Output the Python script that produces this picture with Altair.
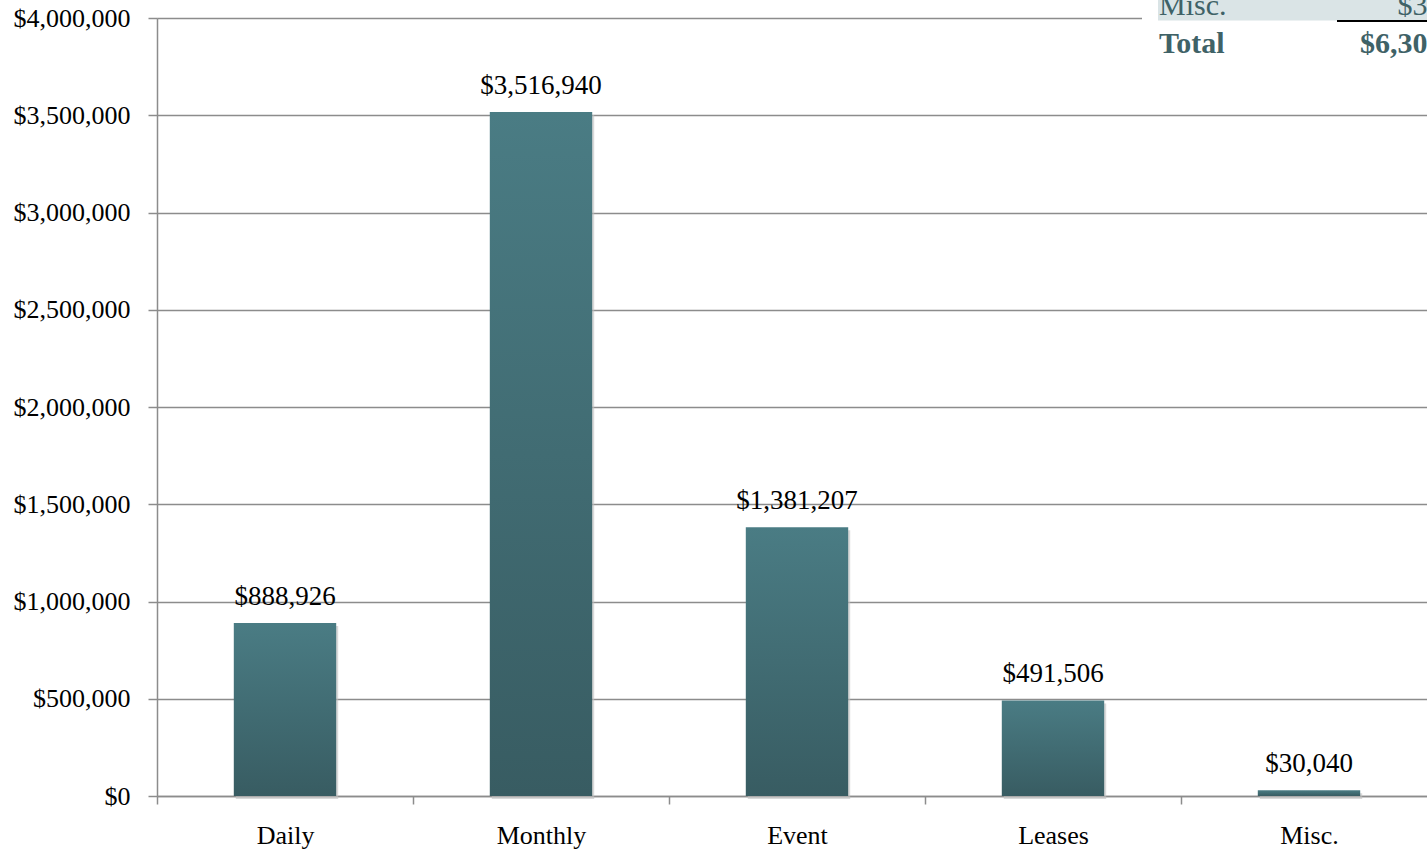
import altair as alt
import pandas as pd

categories = ["Daily", "Monthly", "Event", "Leases", "Misc."]
revenue = [888926, 3516940, 1381207, 491506, 30040]

table_labels = ["Misc.", "Total"]
table_values = ["$30,040", "$6,308,619"]

FONT = "Liberation Serif"
GRID = "#8c8c8c"
TABLE_TEXT = "#3f6267"

df = pd.DataFrame({"category": categories, "revenue": revenue})

x_enc = alt.X(
    "category:N",
    sort=categories,
    scale=alt.Scale(range=[0, 1280], paddingInner=0, paddingOuter=0),
    axis=alt.Axis(
        title=None, labelAngle=0, labelFont=FONT, labelFontSize=26, labelColor="#000000",
        labelBaseline="alphabetic", labelPadding=39, tickBand="extent", tickSize=8,
        tickColor=GRID, tickWidth=1.5, domainColor=GRID, domainWidth=1.5, grid=False,
    ),
)
y_enc = alt.Y(
    "revenue:Q",
    scale=alt.Scale(domain=[0, 4000000], nice=False),
    axis=alt.Axis(
        title=None, values=[0, 500000, 1000000, 1500000, 2000000, 2500000, 3000000, 3500000, 4000000],
        format="$,.0f", labelFont=FONT, labelFontSize=26, labelColor="#000000",
        labelPadding=18, tickSize=9, tickColor=GRID, tickWidth=1.5,
        domainColor=GRID, domainWidth=1.5, grid=True, gridColor=GRID, gridWidth=1.5,
    ),
)

base = alt.Chart(df)
BW = alt.RelativeBandSize(0.4)

shadow = base.mark_bar(color="#bfbfbf", opacity=0.6, xOffset=2, yOffset=3, width=BW).encode(x=x_enc, y=y_enc)

bars = base.mark_bar(
    width=BW,
    color=alt.Gradient(
        gradient="linear",
        stops=[alt.GradientStop(color="#4a7c84", offset=0), alt.GradientStop(color="#385c62", offset=1)],
        x1=0, x2=0, y1=0, y2=1,
    ),
).encode(x=x_enc, y=y_enc)

labels = base.mark_text(
    font=FONT, fontSize=27, color="#000000", baseline="alphabetic", dy=-18
).encode(x=x_enc, y=y_enc, text=alt.Text("revenue:Q", format="$,.0f"))

# Partial summary table in top-right corner (clipped by the page edge)
tdf = pd.DataFrame({"label": table_labels, "value": table_values, "row": [0, 1]})
white_bg = alt.Chart(pd.DataFrame({"a": [0]})).mark_rect(color="white").encode(
    x=alt.value(985), x2=alt.value(1300), y=alt.value(-18), y2=alt.value(45)
)
row_bg = alt.Chart(pd.DataFrame({"a": [0]})).mark_rect(color="#dae4e6").encode(
    x=alt.value(1001), x2=alt.value(1300), y=alt.value(-18), y2=alt.value(2.5)
)
underline = alt.Chart(pd.DataFrame({"a": [0]})).mark_rule(color="#000000", strokeWidth=2).encode(
    x=alt.value(1180), x2=alt.value(1300), y=alt.value(3)
)
misc_label = alt.Chart(tdf[tdf.row == 0]).mark_text(
    font=FONT, fontSize=30, color=TABLE_TEXT, align="left", baseline="alphabetic"
).encode(x=alt.value(1002), y=alt.value(-3), text="label:N")
misc_value = alt.Chart(tdf[tdf.row == 0]).mark_text(
    font=FONT, fontSize=30, color=TABLE_TEXT, align="right", baseline="alphabetic"
).encode(x=alt.value(1338), y=alt.value(-3), text="value:N")
total_label = alt.Chart(tdf[tdf.row == 1]).mark_text(
    font=FONT, fontSize=30, fontWeight="bold", color=TABLE_TEXT, align="left", baseline="alphabetic"
).encode(x=alt.value(1002), y=alt.value(35), text="label:N")
total_value = alt.Chart(tdf[tdf.row == 1]).mark_text(
    font=FONT, fontSize=30, fontWeight="bold", color=TABLE_TEXT, align="right", baseline="alphabetic"
).encode(x=alt.value(1338), y=alt.value(35), text="value:N")

chart = alt.layer(
    shadow, bars, labels, white_bg, row_bg, underline, misc_label, misc_value, total_label, total_value
).properties(
    width=1270, height=778,
    autosize=alt.AutoSizeParams(type="none"),
    padding={"left": 157, "top": 18, "right": 0, "bottom": 55},
).configure_view(stroke=None).configure(background="white")

chart.save("out.html", embed_options={"renderer": "svg", "actions": False})
